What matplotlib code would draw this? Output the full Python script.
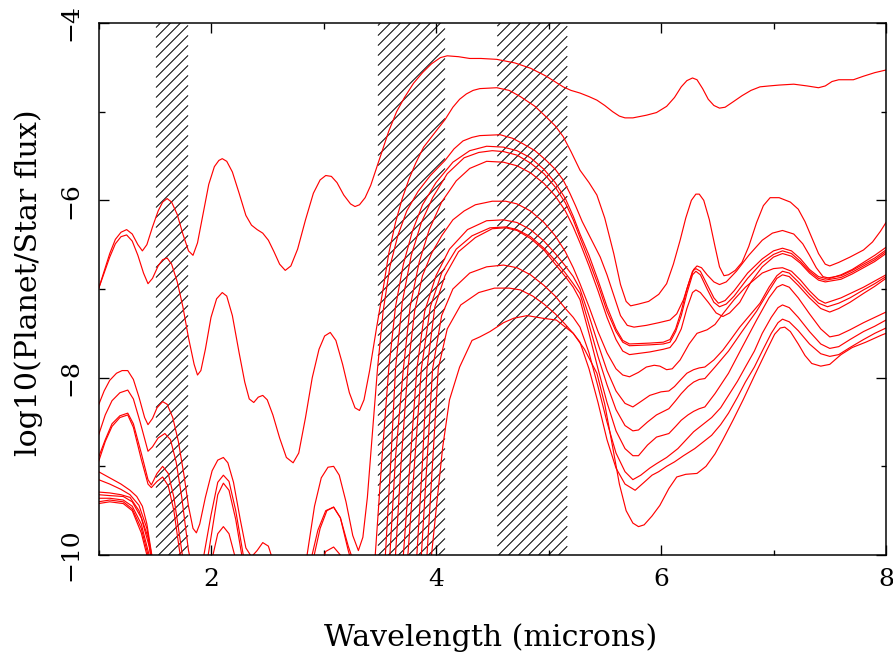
import matplotlib
matplotlib.use("Agg")
import matplotlib.pyplot as plt
from matplotlib.ticker import MultipleLocator
from matplotlib.collections import LineCollection

# hatched wavelength bands (microns)
band_lo = [1.511, 3.484, 4.545]
band_hi = [1.796, 4.080, 5.167]

# model spectra: wavelength (microns) and log10(planet/star flux)
wl_a1 = [1.00, 1.05, 1.10, 1.15, 1.20, 1.25, 1.30, 1.35, 1.39, 1.43, 1.48, 1.53, 1.57, 1.61, 1.65,
         1.70, 1.75, 1.80, 1.84, 1.88, 1.93, 1.98, 2.03, 2.07, 2.10, 2.14, 2.19, 2.25, 2.31, 2.36,
         2.41, 2.46, 2.51, 2.56, 2.61, 2.66, 2.71, 2.77, 2.84, 2.91, 2.97, 3.02, 3.07, 3.12, 3.18,
         3.24, 3.28, 3.32, 3.37, 3.42, 3.47, 3.52, 3.58, 3.65, 3.72, 3.80, 3.88, 3.96, 4.04, 4.10,
         4.20, 4.30, 4.40, 4.54, 4.70, 4.84, 4.98, 5.13, 5.20, 5.28, 5.36, 5.43, 5.50, 5.57, 5.63,
         5.68, 5.75, 5.87, 5.96, 6.05, 6.12, 6.18, 6.23, 6.28, 6.32, 6.37, 6.42, 6.47, 6.52, 6.57,
         6.64, 6.72, 6.80, 6.88, 6.96, 7.05, 7.18, 7.30, 7.40, 7.46, 7.52, 7.58, 7.71, 7.80, 7.90,
         8.00]
fr_a1 = [-7.00, -6.80, -6.60, -6.44, -6.36, -6.33, -6.38, -6.50, -6.57, -6.50, -6.30, -6.12, -6.02, -5.98, -6.02,
         -6.16, -6.38, -6.57, -6.62, -6.48, -6.15, -5.82, -5.62, -5.55, -5.53, -5.56, -5.68, -5.92, -6.17, -6.28,
         -6.33, -6.37, -6.45, -6.58, -6.72, -6.79, -6.74, -6.55, -6.22, -5.92, -5.77, -5.72, -5.73, -5.80, -5.94,
         -6.04, -6.07, -6.05, -5.97, -5.83, -5.64, -5.45, -5.22, -5.00, -4.84, -4.68, -4.56, -4.46, -4.39, -4.37,
         -4.38, -4.40, -4.40, -4.41, -4.45, -4.51, -4.60, -4.72, -4.76, -4.79, -4.83, -4.87, -4.93, -5.00, -5.05,
         -5.07, -5.07, -5.04, -5.01, -4.94, -4.84, -4.72, -4.65, -4.62, -4.64, -4.74, -4.86, -4.93, -4.96, -4.95,
         -4.89, -4.82, -4.76, -4.72, -4.71, -4.70, -4.69, -4.71, -4.73, -4.71, -4.66, -4.64, -4.64, -4.60, -4.56,
         -4.53]

wl_a2 = [1.00, 1.05, 1.10, 1.15, 1.20, 1.25, 1.30, 1.35, 1.40, 1.44, 1.48, 1.53, 1.57, 1.61, 1.65,
         1.70, 1.75, 1.80, 1.85, 1.88, 1.91, 1.95, 2.00, 2.05, 2.10, 2.14, 2.19, 2.25, 2.30, 2.34,
         2.38, 2.42, 2.46, 2.50, 2.55, 2.61, 2.67, 2.73, 2.78, 2.84, 2.90, 2.96, 3.01, 3.06, 3.11,
         3.17, 3.23, 3.28, 3.32, 3.36, 3.41, 3.47, 3.53, 3.58, 3.64, 3.70, 3.76, 3.82, 3.89, 4.00,
         4.08, 4.15, 4.21, 4.27, 4.33, 4.39, 4.54, 4.65, 4.75, 4.88, 4.98, 5.06, 5.13, 5.20, 5.28,
         5.36, 5.43, 5.50, 5.58, 5.64, 5.69, 5.73, 5.80, 5.89, 5.98, 6.05, 6.11, 6.17, 6.22, 6.27,
         6.31, 6.34, 6.38, 6.43, 6.48, 6.52, 6.56, 6.60, 6.66, 6.72, 6.78, 6.85, 6.91, 6.97, 7.05,
         7.15, 7.22, 7.28, 7.34, 7.40, 7.46, 7.50, 7.58, 7.68, 7.80, 7.88, 7.95, 8.00]
fr_a2 = [-7.00, -6.82, -6.64, -6.49, -6.41, -6.39, -6.46, -6.62, -6.82, -6.94, -6.88, -6.74, -6.67, -6.65, -6.72,
         -6.92, -7.20, -7.55, -7.85, -7.97, -7.92, -7.68, -7.32, -7.11, -7.04, -7.08, -7.30, -7.72, -8.05, -8.24,
         -8.28, -8.22, -8.20, -8.25, -8.42, -8.68, -8.90, -8.96, -8.85, -8.45, -8.00, -7.68, -7.53, -7.49, -7.58,
         -7.85, -8.17, -8.34, -8.37, -8.25, -7.92, -7.45, -7.00, -6.60, -6.25, -5.98, -5.76, -5.58, -5.40, -5.22,
         -5.09, -4.95, -4.86, -4.80, -4.76, -4.74, -4.73, -4.76, -4.83, -4.94, -5.06, -5.16, -5.28, -5.45, -5.66,
         -5.80, -5.94, -6.20, -6.60, -6.95, -7.14, -7.19, -7.17, -7.14, -7.06, -6.94, -6.72, -6.45, -6.20, -6.00,
         -5.93, -5.93, -6.00, -6.22, -6.52, -6.75, -6.85, -6.84, -6.79, -6.70, -6.52, -6.25, -6.06, -5.97, -5.97,
         -6.02, -6.10, -6.24, -6.42, -6.60, -6.72, -6.74, -6.70, -6.64, -6.56, -6.47, -6.35, -6.25]

wl_b1 = [1.00, 1.05, 1.10, 1.16, 1.21, 1.26, 1.31, 1.36, 1.41, 1.44, 1.48, 1.52, 1.57, 1.61, 1.66,
         1.71, 1.76, 1.80, 1.84, 1.87, 1.90, 1.95, 2.01, 2.06, 2.11, 2.15, 2.20, 2.26, 2.31, 2.36,
         2.41, 2.46, 2.51, 2.56, 2.70, 2.80, 2.86, 2.92, 2.98, 3.04, 3.09, 3.14, 3.20, 3.26, 3.31,
         3.35, 3.39, 3.43, 3.48, 3.53, 3.59, 3.66, 3.74, 3.84, 3.95, 4.08, 4.16, 4.24, 4.32, 4.39,
         4.57, 4.68, 4.77, 4.88, 4.98, 5.06, 5.13, 5.19, 5.24, 5.30, 5.38, 5.46, 5.52, 5.58, 5.64,
         5.70, 5.76, 5.87, 5.98, 6.08, 6.14, 6.20, 6.25, 6.29, 6.32, 6.36, 6.41, 6.47, 6.52, 6.58,
         6.67, 6.78, 6.90, 6.99, 7.08, 7.18, 7.26, 7.32, 7.38, 7.44, 7.50, 7.60, 7.70, 7.80, 7.90,
         8.00]
fr_b1 = [-8.31, -8.15, -8.03, -7.95, -7.92, -7.92, -8.02, -8.22, -8.45, -8.53, -8.46, -8.34, -8.27, -8.30, -8.45,
         -8.72, -9.10, -9.45, -9.70, -9.75, -9.65, -9.35, -9.05, -8.93, -8.90, -8.96, -9.18, -9.60, -9.92, -10.02,
         -9.95, -9.86, -9.90, -10.10, -10.70, -10.45, -9.95, -9.45, -9.13, -9.01, -9.00, -9.10, -9.40, -9.78, -9.95,
         -9.80, -9.35, -8.70, -7.90, -7.25, -6.75, -6.40, -6.12, -5.90, -5.72, -5.55, -5.42, -5.33, -5.29, -5.27,
         -5.26, -5.30, -5.36, -5.44, -5.55, -5.65, -5.77, -5.92, -6.06, -6.24, -6.44, -6.64, -6.84, -7.07, -7.30,
         -7.41, -7.43, -7.41, -7.38, -7.35, -7.28, -7.12, -6.92, -6.78, -6.74, -6.76, -6.84, -6.92, -6.95, -6.92,
         -6.80, -6.62, -6.45, -6.37, -6.34, -6.38, -6.49, -6.62, -6.76, -6.86, -6.88, -6.84, -6.78, -6.70, -6.62,
         -6.53]

wl_b2 = [1.00, 1.06, 1.12, 1.19, 1.26, 1.31, 1.37, 1.44, 1.48, 1.53, 1.59, 1.64, 1.69, 1.74, 1.80,
         1.86, 1.93, 2.00, 2.06, 2.11, 2.16, 2.22, 2.30, 2.50, 2.70, 2.88, 2.95, 3.02, 3.09, 3.15,
         3.22, 3.30, 3.40, 3.46, 3.52, 3.58, 3.64, 3.71, 3.79, 3.88, 4.00, 4.15, 4.30, 4.45, 4.60,
         4.72, 4.84, 4.96, 5.06, 5.15, 5.22, 5.28, 5.36, 5.44, 5.52, 5.60, 5.66, 5.72, 5.90, 6.02,
         6.08, 6.13, 6.18, 6.23, 6.28, 6.31, 6.35, 6.41, 6.47, 6.51, 6.57, 6.65, 6.77, 6.90, 7.00,
         7.08, 7.16, 7.24, 7.32, 7.40, 7.46, 7.60, 7.70, 7.80, 7.90, 8.00]
fr_b2 = [-8.65, -8.42, -8.26, -8.17, -8.14, -8.24, -8.50, -8.83, -8.78, -8.68, -8.63, -8.70, -8.95, -9.35, -9.95,
         -10.30, -10.05, -9.55, -9.18, -9.10, -9.17, -9.50, -10.10, -10.30, -10.80, -10.10, -9.72, -9.50, -9.46, -9.58,
         -9.90, -10.20, -10.40, -10.00, -8.90, -7.90, -7.20, -6.72, -6.35, -6.05, -5.80, -5.57, -5.44, -5.39, -5.40,
         -5.44, -5.52, -5.65, -5.80, -5.98, -6.18, -6.38, -6.62, -6.90, -7.20, -7.45, -7.58, -7.62, -7.61, -7.60,
         -7.57, -7.45, -7.25, -7.00, -6.80, -6.77, -6.80, -6.95, -7.10, -7.16, -7.13, -7.02, -6.82, -6.66, -6.57,
         -6.54, -6.57, -6.66, -6.78, -6.86, -6.88, -6.85, -6.79, -6.72, -6.65, -6.56]

wl_b3 = [1.00, 1.06, 1.12, 1.19, 1.26, 1.31, 1.38, 1.44, 1.47, 1.52, 1.57, 1.62, 1.67, 1.72, 1.78,
         1.90, 2.00, 2.06, 2.11, 2.16, 2.22, 2.30, 2.60, 2.90, 2.97, 3.03, 3.09, 3.15, 3.22, 3.30,
         3.50, 3.55, 3.60, 3.64, 3.70, 3.78, 3.87, 3.97, 4.10, 4.25, 4.38, 4.50, 4.60, 4.72, 4.84,
         4.96, 5.06, 5.15, 5.22, 5.28, 5.36, 5.44, 5.52, 5.60, 5.66, 5.72, 5.90, 6.02, 6.08, 6.13,
         6.18, 6.23, 6.28, 6.31, 6.35, 6.41, 6.47, 6.52, 6.58, 6.65, 6.77, 6.90, 7.00, 7.08, 7.16,
         7.24, 7.32, 7.40, 7.46, 7.60, 7.70, 7.80, 7.90, 8.00]
fr_b3 = [-8.90, -8.70, -8.52, -8.43, -8.40, -8.52, -8.85, -9.15, -9.21, -9.08, -9.00, -9.08, -9.35, -9.78, -10.30,
         -10.60, -9.80, -9.32, -9.19, -9.27, -9.60, -10.20, -10.80, -10.10, -9.70, -9.50, -9.46, -9.58, -9.95, -10.30,
         -10.50, -10.00, -8.90, -7.90, -7.15, -6.62, -6.25, -5.97, -5.70, -5.52, -5.46, -5.44, -5.45, -5.49, -5.58,
         -5.70, -5.85, -6.03, -6.22, -6.42, -6.68, -6.95, -7.25, -7.48, -7.60, -7.64, -7.63, -7.62, -7.60, -7.48,
         -7.30, -7.05, -6.84, -6.80, -6.84, -7.00, -7.15, -7.20, -7.17, -7.08, -6.88, -6.70, -6.61, -6.57, -6.60,
         -6.69, -6.80, -6.88, -6.90, -6.87, -6.81, -6.74, -6.67, -6.58]

wl_b4 = [1.00, 1.06, 1.12, 1.19, 1.26, 1.31, 1.38, 1.44, 1.47, 1.52, 1.57, 1.62, 1.67, 1.72, 1.80,
         2.00, 2.06, 2.11, 2.16, 2.22, 2.30, 2.70, 2.95, 3.02, 3.09, 3.15, 3.20, 3.40, 3.59, 3.64,
         3.71, 3.77, 3.85, 3.94, 4.05, 4.18, 4.30, 4.45, 4.60, 4.72, 4.84, 4.96, 5.06, 5.15, 5.22,
         5.28, 5.36, 5.44, 5.52, 5.60, 5.66, 5.72, 5.90, 6.02, 6.08, 6.13, 6.18, 6.23, 6.28, 6.31,
         6.35, 6.42, 6.49, 6.55, 6.61, 6.70, 6.80, 6.90, 7.00, 7.08, 7.16, 7.24, 7.32, 7.40, 7.46,
         7.60, 7.70, 7.80, 7.90, 8.00]
fr_b4 = [-8.95, -8.72, -8.55, -8.45, -8.42, -8.56, -8.92, -9.20, -9.24, -9.17, -9.12, -9.22, -9.50, -9.95, -10.50,
         -10.10, -9.76, -9.68, -9.76, -10.05, -10.50, -11.00, -10.20, -9.96, -9.91, -10.00, -10.20, -10.70, -10.00, -8.90,
         -7.90, -7.20, -6.70, -6.33, -6.02, -5.78, -5.64, -5.56, -5.57, -5.61, -5.69, -5.81, -5.95, -6.12, -6.30,
         -6.48, -6.74, -7.02, -7.32, -7.57, -7.70, -7.74, -7.71, -7.68, -7.66, -7.58, -7.45, -7.22, -7.04, -7.01,
         -7.04, -7.15, -7.27, -7.31, -7.27, -7.15, -6.92, -6.75, -6.64, -6.60, -6.63, -6.71, -6.82, -6.90, -6.92,
         -6.89, -6.83, -6.76, -6.69, -6.60]

wl_c1 = [1.00, 1.10, 1.20, 1.28, 1.34, 1.39, 1.43, 1.48, 1.56, 2.50, 3.50, 3.64, 3.69, 3.75, 3.81,
         3.88, 3.96, 4.05, 4.15, 4.25, 4.35, 4.50, 4.62, 4.72, 4.84, 4.96, 5.06, 5.15, 5.22, 5.28,
         5.36, 5.44, 5.52, 5.60, 5.66, 5.72, 5.80, 5.87, 5.94, 5.99, 6.05, 6.10, 6.17, 6.25, 6.32,
         6.41, 6.48, 6.55, 6.65, 6.75, 6.90, 7.00, 7.08, 7.16, 7.24, 7.32, 7.40, 7.46, 7.60, 7.70,
         7.80, 7.90, 8.00]
fr_c1 = [-9.06, -9.13, -9.20, -9.27, -9.34, -9.45, -9.65, -10.05, -10.60, -11.50, -11.20, -10.00, -8.95, -7.90, -7.25,
         -6.85, -6.60, -6.40, -6.22, -6.12, -6.05, -6.01, -6.01, -6.04, -6.12, -6.25, -6.40, -6.58, -6.76, -6.94,
         -7.20, -7.48, -7.72, -7.90, -7.97, -7.99, -7.94, -7.88, -7.86, -7.87, -7.91, -7.90, -7.80, -7.62, -7.50,
         -7.46, -7.40, -7.28, -7.12, -6.98, -6.82, -6.77, -6.76, -6.80, -6.90, -7.02, -7.12, -7.16, -7.10, -7.04,
         -6.98, -6.91, -6.84]

wl_c2 = [1.00, 1.10, 1.20, 1.28, 1.36, 1.43, 1.50, 2.50, 3.50, 3.71, 3.77, 3.83, 3.90, 4.00, 4.12,
         4.28, 4.45, 4.60, 4.72, 4.84, 4.96, 5.06, 5.15, 5.22, 5.28, 5.36, 5.44, 5.52, 5.60, 5.68,
         5.75, 5.82, 5.90, 6.00, 6.07, 6.12, 6.17, 6.23, 6.29, 6.34, 6.39, 6.47, 6.55, 6.62, 6.70,
         6.80, 6.88, 6.96, 7.03, 7.08, 7.14, 7.22, 7.32, 7.40, 7.48, 7.58, 7.68, 7.80, 7.90, 8.00]
fr_c2 = [-9.15, -9.20, -9.26, -9.32, -9.44, -9.70, -10.20, -11.60, -11.40, -10.00, -8.95, -7.90, -7.25, -6.85, -6.55,
         -6.33, -6.23, -6.22, -6.25, -6.33, -6.46, -6.60, -6.74, -6.86, -7.00, -7.30, -7.62, -7.92, -8.15, -8.29,
         -8.33, -8.27, -8.20, -8.16, -8.15, -8.10, -8.03, -7.95, -7.91, -7.89, -7.88, -7.80, -7.69, -7.57, -7.43,
         -7.28, -7.16, -6.98, -6.85, -6.80, -6.82, -6.92, -7.06, -7.16, -7.20, -7.16, -7.10, -7.01, -6.94, -6.86]

wl_c3 = [1.00, 1.10, 1.20, 1.28, 1.36, 1.44, 1.50, 2.50, 3.50, 3.75, 3.81, 3.87, 3.95, 4.05, 4.18,
         4.32, 4.48, 4.62, 4.72, 4.84, 4.96, 5.06, 5.15, 5.22, 5.28, 5.36, 5.44, 5.52, 5.60, 5.68,
         5.75, 5.80, 5.88, 5.96, 6.07, 6.13, 6.18, 6.24, 6.29, 6.34, 6.39, 6.48, 6.60, 6.72, 6.85,
         6.96, 7.03, 7.08, 7.14, 7.22, 7.32, 7.42, 7.50, 7.58, 7.68, 7.80, 7.90, 8.00]
fr_c3 = [-9.29, -9.30, -9.32, -9.35, -9.50, -9.80, -10.30, -11.70, -11.50, -10.00, -8.95, -7.90, -7.20, -6.82, -6.55,
         -6.40, -6.31, -6.30, -6.33, -6.41, -6.54, -6.68, -6.82, -6.94, -7.05, -7.40, -7.76, -8.08, -8.36, -8.54,
         -8.60, -8.59, -8.50, -8.42, -8.35, -8.26, -8.18, -8.10, -8.05, -8.02, -8.01, -7.88, -7.70, -7.48, -7.25,
         -7.02, -6.88, -6.84, -6.86, -6.96, -7.10, -7.22, -7.26, -7.22, -7.15, -7.05, -6.97, -6.88]

wl_c4 = [1.00, 1.10, 1.22, 1.30, 1.38, 1.45, 1.52, 2.50, 3.50, 3.83, 3.88, 3.92, 3.99, 4.08, 4.20,
         4.35, 4.50, 4.62, 4.72, 4.84, 4.96, 5.06, 5.15, 5.22, 5.28, 5.36, 5.44, 5.52, 5.60, 5.68,
         5.75, 5.80, 5.88, 5.96, 6.07, 6.13, 6.18, 6.24, 6.29, 6.34, 6.39, 6.48, 6.60, 6.72, 6.85,
         6.96, 7.03, 7.08, 7.14, 7.22, 7.32, 7.42, 7.50, 7.58, 7.68, 7.80, 7.90, 8.00]
fr_c4 = [-9.32, -9.33, -9.34, -9.40, -9.58, -9.90, -10.40, -11.80, -11.60, -10.00, -8.95, -7.90, -7.20, -6.85, -6.58,
         -6.42, -6.32, -6.31, -6.34, -6.43, -6.56, -6.72, -6.86, -6.98, -7.12, -7.50, -7.90, -8.28, -8.60, -8.80,
         -8.88, -8.88, -8.76, -8.67, -8.63, -8.55, -8.48, -8.42, -8.38, -8.35, -8.33, -8.18, -7.95, -7.66, -7.35,
         -7.10, -6.98, -6.95, -6.98, -7.10, -7.28, -7.45, -7.54, -7.52, -7.46, -7.38, -7.32, -7.26]

wl_d1 = [1.00, 1.10, 1.22, 1.30, 1.38, 1.45, 1.52, 2.50, 3.50, 3.87, 3.92, 3.97, 4.05, 4.15, 4.30,
         4.45, 4.60, 4.72, 4.84, 4.96, 5.06, 5.15, 5.22, 5.28, 5.36, 5.44, 5.52, 5.60, 5.68, 5.75,
         5.82, 5.90, 5.96, 6.05, 6.15, 6.29, 6.38, 6.45, 6.53, 6.60, 6.68, 6.75, 6.83, 6.90, 6.98,
         7.04, 7.08, 7.14, 7.22, 7.32, 7.42, 7.50, 7.58, 7.68, 7.80, 7.90, 8.00]
fr_d1 = [-9.36, -9.36, -9.38, -9.45, -9.65, -10.00, -10.50, -12.00, -11.80, -10.00, -8.95, -7.90, -7.30, -7.00, -6.82,
         -6.75, -6.73, -6.76, -6.84, -6.96, -7.08, -7.22, -7.32, -7.43, -7.72, -8.10, -8.50, -8.85, -9.06, -9.15,
         -9.10, -9.02, -8.97, -8.90, -8.80, -8.61, -8.52, -8.45, -8.34, -8.20, -8.04, -7.88, -7.70, -7.50, -7.32,
         -7.21, -7.18, -7.21, -7.32, -7.48, -7.62, -7.67, -7.65, -7.57, -7.48, -7.42, -7.35]

wl_d2 = [1.00, 1.10, 1.22, 1.30, 1.38, 1.45, 1.52, 2.50, 3.50, 3.92, 3.97, 4.02, 4.10, 4.22, 4.38,
         4.52, 4.65, 4.75, 4.86, 4.96, 5.06, 5.15, 5.22, 5.28, 5.36, 5.44, 5.52, 5.60, 5.68, 5.77,
         5.85, 5.92, 5.98, 6.05, 6.12, 6.20, 6.30, 6.38, 6.45, 6.53, 6.60, 6.68, 6.75, 6.83, 6.90,
         6.98, 7.04, 7.08, 7.14, 7.22, 7.32, 7.42, 7.50, 7.58, 7.68, 7.80, 7.90, 8.00]
fr_d2 = [-9.40, -9.38, -9.40, -9.48, -9.70, -10.05, -10.55, -12.00, -11.90, -10.00, -8.95, -7.90, -7.45, -7.18, -7.04,
         -6.99, -6.99, -7.01, -7.08, -7.17, -7.28, -7.40, -7.50, -7.60, -7.90, -8.28, -8.70, -9.02, -9.20, -9.27,
         -9.18, -9.10, -9.06, -9.00, -8.95, -8.88, -8.80, -8.72, -8.65, -8.53, -8.40, -8.22, -8.05, -7.88, -7.70,
         -7.50, -7.38, -7.34, -7.37, -7.47, -7.62, -7.73, -7.76, -7.74, -7.66, -7.57, -7.50, -7.44]

wl_d3 = [1.00, 1.10, 1.22, 1.30, 1.38, 1.45, 1.52, 2.50, 3.50, 3.96, 4.01, 4.06, 4.12, 4.21, 4.32,
         4.39, 4.48, 4.60, 4.69, 4.81, 4.95, 5.07, 5.22, 5.32, 5.43, 5.50, 5.57, 5.63, 5.69, 5.75,
         5.80, 5.85, 5.92, 5.99, 6.07, 6.14, 6.22, 6.32, 6.40, 6.48, 6.55, 6.64, 6.73, 6.83, 6.94,
         7.01, 7.06, 7.10, 7.15, 7.22, 7.28, 7.34, 7.42, 7.50, 7.60, 7.70, 7.82, 7.96, 8.00]
fr_d3 = [-9.42, -9.40, -9.42, -9.50, -9.75, -10.10, -10.60, -12.00, -12.00, -10.00, -9.38, -8.78, -8.25, -7.88, -7.58,
         -7.54, -7.48, -7.38, -7.33, -7.30, -7.33, -7.35, -7.50, -7.68, -7.95, -8.30, -8.78, -9.20, -9.50, -9.64,
         -9.68, -9.66, -9.56, -9.44, -9.25, -9.12, -9.09, -9.08, -9.00, -8.86, -8.70, -8.48, -8.25, -7.98, -7.69,
         -7.51, -7.44, -7.43, -7.48, -7.62, -7.75, -7.84, -7.87, -7.85, -7.74, -7.66, -7.60, -7.52, -7.50]

spectra = [(wl_a1, fr_a1), (wl_a2, fr_a2), (wl_b1, fr_b1), (wl_b2, fr_b2), (wl_b3, fr_b3),
           (wl_b4, fr_b4), (wl_c1, fr_c1), (wl_c2, fr_c2), (wl_c3, fr_c3), (wl_c4, fr_c4),
           (wl_d1, fr_d1), (wl_d2, fr_d2), (wl_d3, fr_d3)]

plt.rcParams['font.family'] = 'DejaVu Serif'

W, H, DPI = 893, 658, 120
XMIN, XMAX, YMIN, YMAX = 1, 8, -10, -4
ax_px = (98.5, 103, 886 - 98.5, 555 - 23)      # left, bottom, width, height in pixels
fig = plt.figure(figsize=(W / DPI, H / DPI), dpi=DPI)
ax = fig.add_axes([ax_px[0] / W, ax_px[1] / H, ax_px[2] / W, ax_px[3] / H])

# 45-degree hatching, one line every 10 px, clipped to each band
step = 10.0
sx = (XMAX - XMIN) / ax_px[2]
sy = (YMAX - YMIN) / ax_px[3]
segs = []
for lo, hi in zip(band_lo, band_hi):
    L = (lo - XMIN) / sx
    R = (hi - XMIN) / sx
    c = step * int((L - ax_px[3]) // step)
    while c < R:
        p0 = max(L, c)
        p1 = min(R, c + ax_px[3])
        if p1 > p0:
            segs.append([(XMIN + p0 * sx, YMIN + (p0 - c) * sy),
                         (XMIN + p1 * sx, YMIN + (p1 - c) * sy)])
        c += step
ax.add_collection(LineCollection(segs, colors='black', linewidths=0.6, zorder=1))

for wl, fr in spectra:
    ax.plot(wl, fr, color='red', lw=0.7, zorder=2)

ax.set_xlim(XMIN, XMAX)
ax.set_ylim(YMIN, YMAX)
ax.xaxis.set_major_locator(MultipleLocator(2))
ax.xaxis.set_minor_locator(MultipleLocator(1))
ax.yaxis.set_major_locator(MultipleLocator(2))
ax.yaxis.set_minor_locator(MultipleLocator(1))
ax.tick_params(which='both', direction='in', top=True, right=True, width=0.8, color='black')
ax.tick_params(which='major', length=6)
ax.tick_params(which='minor', length=3.3)
ax.tick_params(axis='x', labelsize=15, pad=7.5)
ax.tick_params(axis='y', labelsize=15, pad=9.5, labelrotation=90)
for lbl in ax.get_yticklabels():
    lbl.set_verticalalignment('center')
for s in ax.spines.values():
    s.set_linewidth(0.9)

fig.text(491 / W, 1 - 638 / H, 'Wavelength (microns)', fontsize=18, ha='center', va='center')
fig.text(29 / W, 1 - 283 / H, 'log10(Planet/Star flux)', fontsize=18, ha='center', va='center',
         rotation=90)

fig.savefig('out.png', dpi=DPI)
